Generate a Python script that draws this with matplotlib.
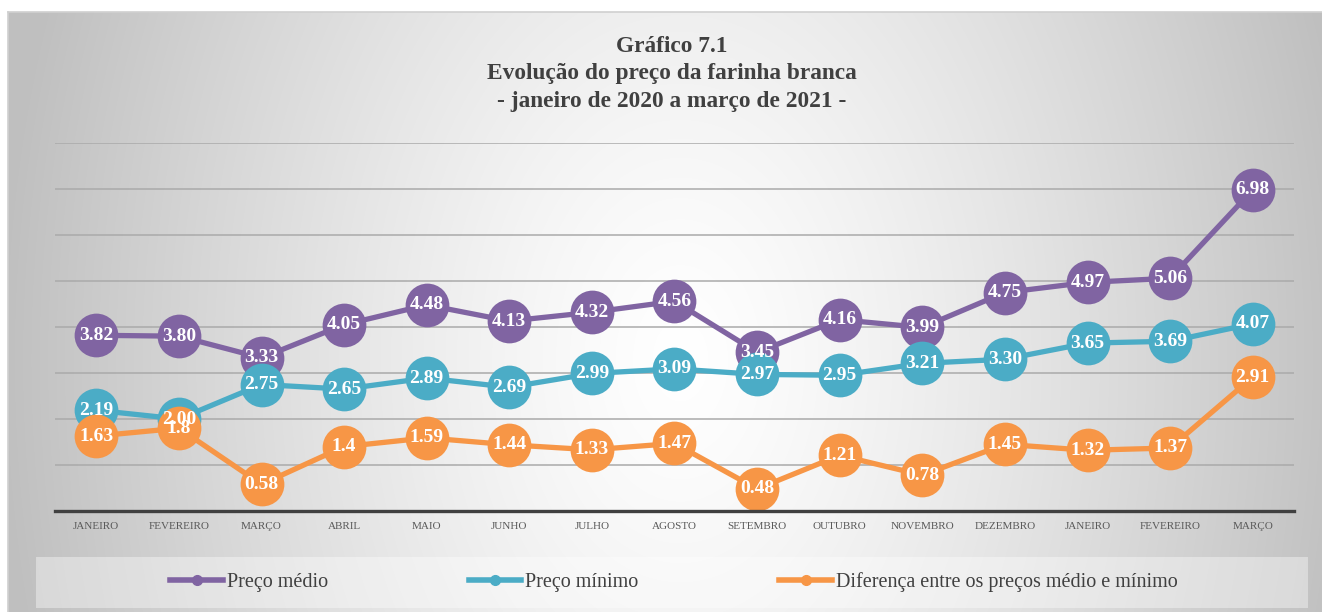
import numpy as np
import matplotlib
matplotlib.use("Agg")
import matplotlib.pyplot as plt
from matplotlib.lines import Line2D
from matplotlib.patches import Rectangle

# data
meses = ["JANEIRO", "FEVEREIRO", "MARÇO", "ABRIL", "MAIO", "JUNHO", "JULHO", "AGOSTO",
         "SETEMBRO", "OUTUBRO", "NOVEMBRO", "DEZEMBRO", "JANEIRO", "FEVEREIRO", "MARÇO"]
preco_medio = [3.82, 3.80, 3.33, 4.05, 4.48, 4.13, 4.32, 4.56, 3.45, 4.16, 3.99, 4.75, 4.97, 5.06, 6.98]
preco_minimo = [2.19, 2.00, 2.75, 2.65, 2.89, 2.69, 2.99, 3.09, 2.97, 2.95, 3.21, 3.30, 3.65, 3.69, 4.07]
diferenca = [1.63, 1.8, 0.58, 1.4, 1.59, 1.44, 1.33, 1.47, 0.48, 1.21, 0.78, 1.45, 1.32, 1.37, 2.91]
rot_medio = ["3.82", "3.80", "3.33", "4.05", "4.48", "4.13", "4.32", "4.56", "3.45", "4.16", "3.99", "4.75", "4.97", "5.06", "6.98"]
rot_minimo = ["2.19", "2.00", "2.75", "2.65", "2.89", "2.69", "2.99", "3.09", "2.97", "2.95", "3.21", "3.30", "3.65", "3.69", "4.07"]
rot_dif = ["1.63", "1.8", "0.58", "1.4", "1.59", "1.44", "1.33", "1.47", "0.48", "1.21", "0.78", "1.45", "1.32", "1.37", "2.91"]

series = [
    ("Preço médio", preco_medio, rot_medio, "#8064A2"),
    ("Preço mínimo", preco_minimo, rot_minimo, "#4BACC6"),
    ("Diferença entre os preços médio e mínimo", diferenca, rot_dif, "#F79646"),
]

W, H = 1322, 612
fig = plt.figure(figsize=(W / 100, H / 100), dpi=100)
fig.patch.set_facecolor("white")

# radial gradient background of the chart area
bg = fig.add_axes([8 / W, 0, (W - 8) / W, (H - 12) / H])
xx, yy = np.meshgrid(np.arange(8, W), np.arange(12, H))
d = np.sqrt(((xx - 680) / 680.0) ** 2 + ((yy - 360) / 1000.0) ** 2)
g = 1 - 0.25 * np.clip(d, 0, 1) ** 1.3
bg.imshow(np.dstack([g, g, g]), aspect="auto", extent=(0, 1, 0, 1))
bg.set_xlim(0, 1)
bg.set_ylim(0, 1)
bg.axis("off")
# thin frame line
fig.add_artist(Line2D([8 / W, 1], [(H - 12) / H] * 2, color="#d0d0d0", lw=1.2))
fig.add_artist(Line2D([8 / W] * 2, [0, (H - 12) / H], color="#d0d0d0", lw=1.2))

ax = fig.add_axes([55 / W, 101 / H, (1294 - 55) / W, (511 - 143) / H])
ax.patch.set_alpha(0)
x = np.arange(len(meses))

for nome, vals, rots, cor in series:
    ax.plot(x, vals, color=cor, lw=3.8, marker="o", markersize=31.5,
            markeredgewidth=0, clip_on=False, zorder=3)
for nome, vals, rots, cor in series:
    for xi, v, r in zip(x, vals, rots):
        ax.text(xi, v, r, ha="center", va="center", color="white",
                fontsize=14, fontweight="bold", family="Liberation Serif", zorder=5)

ax.set_xlim(-0.5, len(meses) - 0.5)
ax.set_ylim(0, 8)
ax.set_yticks(np.arange(1, 9))
ax.yaxis.grid(True, color="#aaaaaa", lw=1.1)
ax.set_axisbelow(True)
ax.tick_params(axis="y", left=False, labelleft=False)
ax.set_xticks(x)
ax.set_xticklabels(meses, fontsize=8, family="Liberation Serif", color="#595959")
ax.tick_params(axis="x", length=0, pad=8)
for s in ["top", "right", "left"]:
    ax.spines[s].set_visible(False)
ax.spines["bottom"].set_color("#404040")
ax.spines["bottom"].set_linewidth(2.4)
ax.spines["bottom"].set_zorder(4)

# title
fig.text(672 / W, 1 - 74 / H, "Gráfico 7.1\nEvolução do preço da farinha branca\n- janeiro de 2020 a março de 2021 -",
         ha="center", va="center", fontsize=16.8, fontweight="bold", family="Liberation Serif",
         color="#404040", linespacing=1.4)

# legend box
fig.add_artist(Rectangle((36 / W, 1 - 608 / H), (1308 - 36) / W, 51 / H,
                         transform=fig.transFigure, facecolor="white", alpha=0.38, edgecolor="none"))
handles = [Line2D([0], [0], color=c, lw=4, marker="o", markersize=7) for _, _, _, c in series]
leg = fig.legend(handles, [s[0] for s in series], loc="center", bbox_to_anchor=(674 / W, 1 - 582 / H),
                 ncol=3, frameon=False, numpoints=1, handlelength=2.6, handletextpad=0.2,
                 columnspacing=7.0, prop={"family": "Liberation Serif", "size": 14.5})
for t in leg.get_texts():
    t.set_color("#404040")

fig.savefig("out.png", dpi=100)
